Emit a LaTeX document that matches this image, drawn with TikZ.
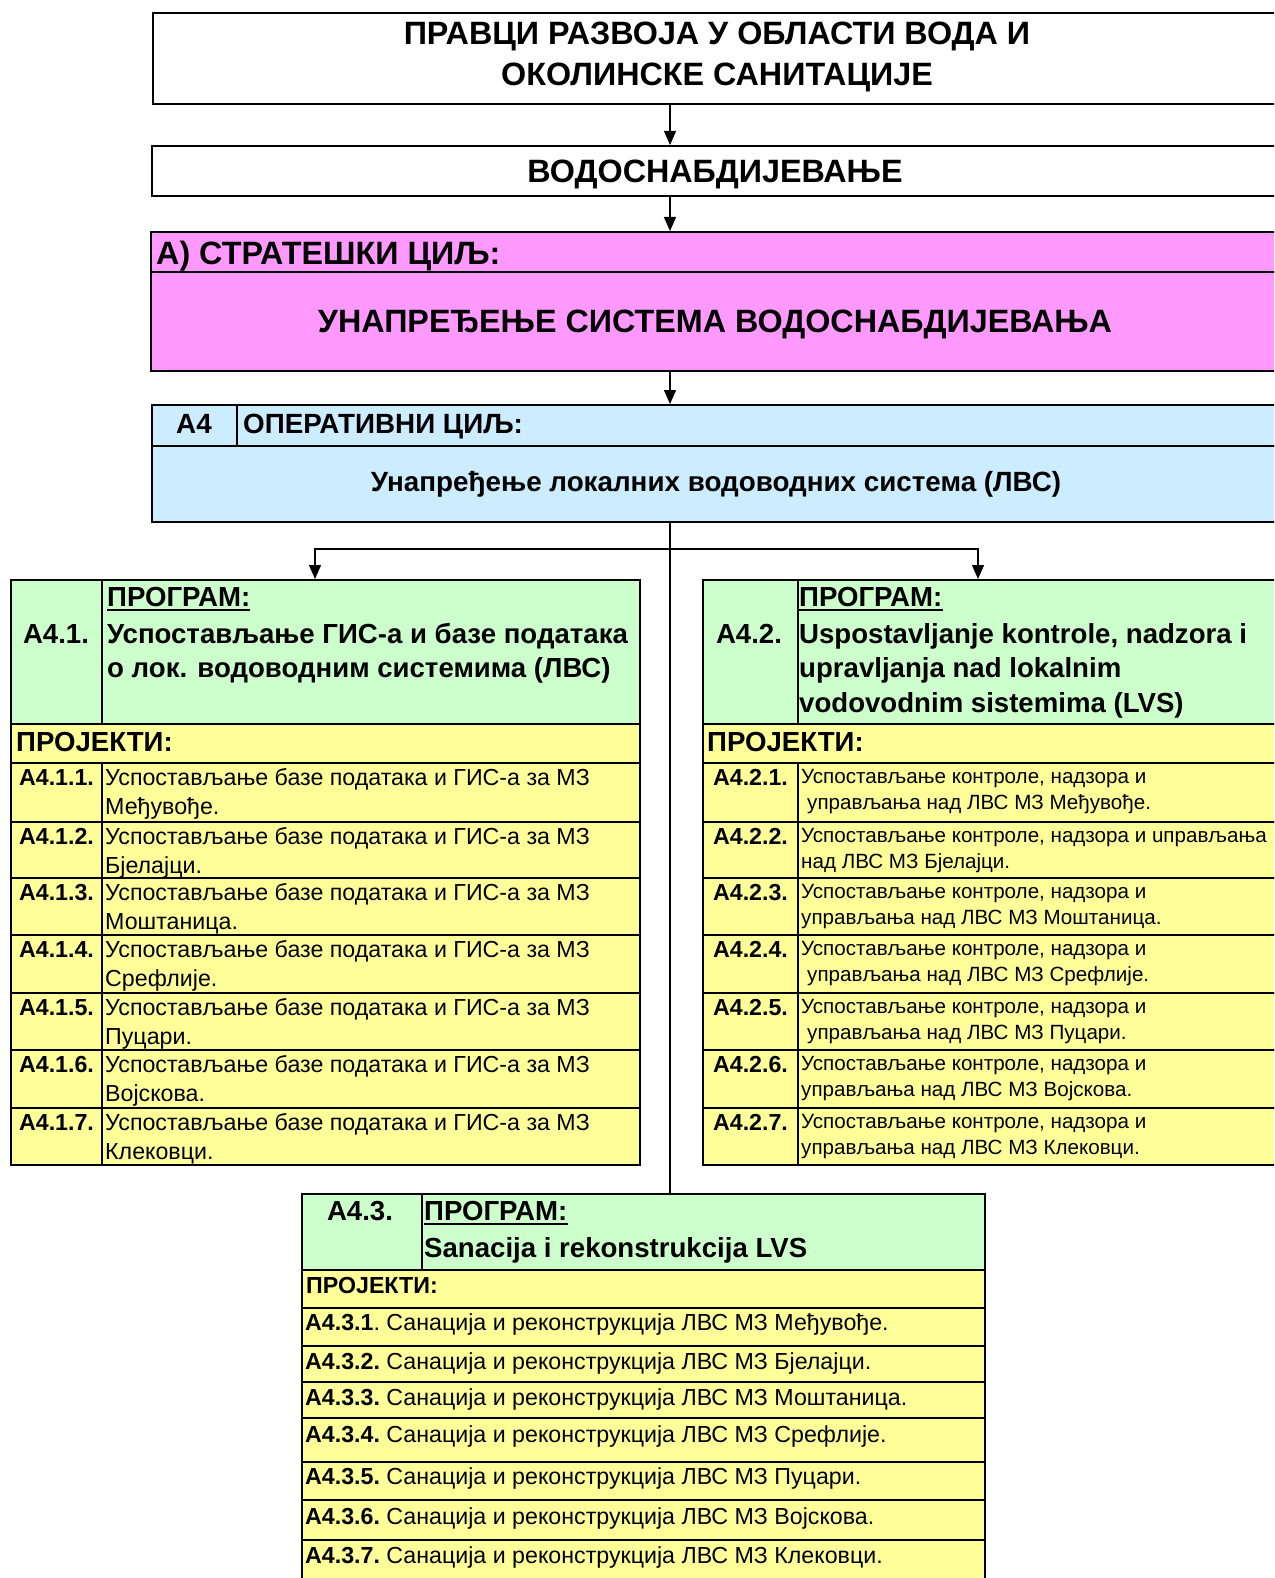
\documentclass[tikz,border=0pt]{standalone}
\usepackage{fontspec}
\setmainfont{Liberation Sans}
\usetikzlibrary{arrows.meta}
\definecolor{pinkc}{HTML}{FF99FF}
\definecolor{bluec}{HTML}{CCECFF}
\definecolor{greenc}{HTML}{CCFFCC}
\definecolor{yellowc}{HTML}{FFFF99}
\tikzset{
 cell/.style={draw=black, line width=1.9pt, rectangle, inner sep=0pt, anchor=north west},
 arr/.style={line width=1.3pt, -{Triangle[length=14pt,width=12pt]}},
 conn/.style={line width=1.3pt},
 txt/.style={inner sep=0pt, anchor=base},
 txtl/.style={inner sep=0pt, anchor=base west},
 ftitle/.style={font=\fontsize{32.3}{36}\selectfont\bfseries},
 fprog/.style={font=\fontsize{27.6}{32}\selectfont\bfseries},
 fblue/.style={font=\fontsize{27.8}{32}\selectfont\bfseries},
 fproj/.style={font=\fontsize{27.6}{32}\selectfont\bfseries},
 flab/.style={font=\fontsize{23.2}{27}\selectfont\bfseries},
 frow/.style={font=\fontsize{23.2}{27}\selectfont},
 frowr/.style={font=\fontsize{20.6}{25}\selectfont},
 uline/.style={line width=2.8pt},
}
\newcommand\cellbox[6]{\node[cell, fill=#6, minimum width={(#4-#2)*1pt}, minimum height={(#5-#3)*1pt}] (#1) at (#2,#3) {};}
\begin{document}
\begin{tikzpicture}[x=1pt,y=-1pt]
\useasboundingbox (0,0) rectangle (1274,1578);
\fill[white] (0,0) rectangle (1274,1578);
\clip (0,0) rectangle (1274,1578);
% top boxes
\cellbox{title}{152}{12}{1285}{103}{white}
\node[txt,ftitle] (t1) at (717,44.8) {ПРАВЦИ РАЗВОЈА У ОБЛАСТИ ВОДА И};
\node[txt,ftitle] (t2) at (717,86) {ОКОЛИНСКЕ САНИТАЦИЈЕ};
\cellbox{water}{151}{145}{1285}{195}{white}
\node[txt,ftitle] (wt) at (715,182.6) {ВОДОСНАБДИЈЕВАЊЕ};
\cellbox{strat1}{150}{231}{1285}{271}{pinkc}
\cellbox{strat2}{150}{271}{1285}{370}{pinkc}
\node[txtl,ftitle] (s1) at (156,265) {А) СТРАТЕШКИ ЦИЉ:};
\node[txt,ftitle] (s2) at (715,332.5) {УНАПРЕЂЕЊЕ СИСТЕМА ВОДОСНАБДИЈЕВАЊА};
% operative goal
\cellbox{blueA}{151}{404}{236}{445}{bluec}
\cellbox{blueB}{236}{404}{1285}{445}{bluec}
\cellbox{blueC}{151}{445}{1285}{521}{bluec}
\node[txt,fblue] (b1) at (194,433.5) {А4};
\node[txtl,fblue] (b2) at (243,433.5) {ОПЕРАТИВНИ ЦИЉ:};
\node[txt,fblue] (b3) at (716,491.5) {Унапређење локалних водоводних система (ЛВС)};
% left program
\cellbox{lp1}{10}{579}{101}{723}{greenc}
\cellbox{lp2}{101}{579}{639}{723}{greenc}
\cellbox{lpproj}{10}{723}{639}{762}{yellowc}
\node[txt,fprog] (lpl) at (56,643) {А4.1.};
\node[txtl,fprog] (lpg) at (107,606.5) {ПРОГРАМ:};
\draw[uline] ([yshift=-3.5pt]lpg.base west) -- ([yshift=-3.5pt]lpg.base east);
\node[txtl,fprog] (lpa) at (107,643) {Успостављање ГИС-а и базе података};
\node[txtl,fprog] (lpb) at (107,677) {о лок. водоводним системима (ЛВС)};
\node[txtl,fproj] (lpp) at (16,751.5) {ПРОЈЕКТИ:};
\foreach \t/\b/\n/\m in {762/821/1/Међувође., 821/877/2/Бјелајци., 877/934/3/Моштаница., 934/992/4/Срефлије., 992/1049/5/Пуцари., 1049/1107/6/Војскова., 1107/1164/7/Клековци.}{
  \cellbox{lr\n a}{10}{\t}{101}{\b}{yellowc}
  \cellbox{lr\n b}{101}{\t}{639}{\b}{yellowc}
  \node[txt,flab] (lr\n l) at (56.5,\t+23.3) {А4.1.\n.};
  \node[txtl,frow] (lr\n x) at (105,\t+23.3) {Успостављање базе података и ГИС-а за МЗ};
  \node[txtl,frow] (lr\n y) at (105,\t+52) {\m};
}
% right program
\cellbox{rp1}{702}{579}{797}{723}{greenc}
\cellbox{rp2}{797}{579}{1285}{723}{greenc}
\cellbox{rpproj}{702}{723}{1285}{762}{yellowc}
\node[txt,fprog] (rpl) at (749,643) {А4.2.};
\node[txtl,fprog] (rpg) at (799,606.5) {ПРОГРАМ:};
\draw[uline] ([yshift=-3.5pt]rpg.base west) -- ([yshift=-3.5pt]rpg.base east);
\node[txtl,fprog] (rpa) at (799,643) {Uspostavljanje kontrole, nadzora i};
\node[txtl,fprog] (rpb) at (799,677) {upravljanja nad lokalnim};
\node[txtl,fprog] (rpc) at (799,712) {vodovodnim sistemima (LVS)};
\node[txtl,fproj] (rpp) at (707,751.5) {ПРОЈЕКТИ:};
\foreach \t/\b/\n/\f/\s/\m in {762/821/1/Успостављање контроле{,} надзора и/6/управљања над ЛВС МЗ Међувође.,
  821/877/2/Успостављање контроле{,} надзора и uправљања/0/над ЛВС МЗ Бјелајци.,
  877/934/3/Успостављање контроле{,} надзора и/0/управљања над ЛВС МЗ Моштаница.,
  934/992/4/Успостављање контроле{,} надзора и/6/управљања над ЛВС МЗ Срефлије.,
  992/1049/5/Успостављање контроле{,} надзора и/6/управљања над ЛВС МЗ Пуцари.,
  1049/1107/6/Успостављање контроле{,} надзора и/0/управљања над ЛВС МЗ Војскова.,
  1107/1164/7/Успостављање контроле{,} надзора и/0/управљања над ЛВС МЗ Клековци.}{
  \cellbox{rr\n a}{702}{\t}{797}{\b}{yellowc}
  \cellbox{rr\n b}{797}{\t}{1285}{\b}{yellowc}
  \node[txt,flab] (rr\n l) at (750.5,\t+23.3) {А4.2.\n.};
  \node[txtl,frowr] (rr\n x) at (801,\t+21.5) {\f};
  \node[txtl,frowr] (rr\n y) at (801+\s,\t+47.5) {\m};
}
% bottom program
\cellbox{bp1}{301}{1193}{421}{1269}{greenc}
\cellbox{bp2}{421}{1193}{984}{1269}{greenc}
\cellbox{bpproj}{301}{1269}{984}{1307}{yellowc}
\node[txt,fprog] (bpl) at (360,1220.5) {А4.3.};
\node[txtl,fprog] (bpg) at (424,1220.5) {ПРОГРАМ:};
\draw[uline] ([yshift=-3.5pt]bpg.base west) -- ([yshift=-3.5pt]bpg.base east);
\node[txtl,fprog] (bpa) at (424,1257) {Sanacija i rekonstrukcija LVS};
\node[txtl,flab] (bpp) at (306,1293) {ПРОЈЕКТИ:};
\foreach \t/\b/\bl/\n/\m/\p in {1307/1345/1330.5/1/Међувође./, 1345/1381/1369/2/Бјелајци./., 1381/1417/1405/3/Моштаница./., 1417/1461/1442/4/Срефлије./., 1461/1499/1484.5/5/Пуцари./., 1499/1539/1524/6/Војскова./., 1539/1590/1563/7/Клековци./.}{
  \cellbox{br\n}{301}{\t}{984}{\b}{yellowc}
  \node[txtl,frow] (br\n t) at (305,\bl) {\textbf{А4.3.\n\p}\ifx\p\empty.\fi\ Санација и реконструкција ЛВС МЗ \m};
}
% connectors
\coordinate (ax) at (670,0);
\coordinate (la) at (315,0);
\coordinate (ra) at (978,0);
\coordinate (jn) at (670,549);
\draw[arr] (title.south -| ax) -- (water.north -| ax);
\draw[arr] (water.south -| ax) -- (strat1.north -| ax);
\draw[arr] (strat2.south -| ax) -- (blueB.north -| ax);
\draw[conn] (blueC.south -| ax) -- (jn);
\draw[arr] (jn) -| (lp2.north -| la);
\draw[arr] (jn) -| (rp2.north -| ra);
\draw[conn] (jn) -- (bp2.north -| ax);
\end{tikzpicture}
\end{document}
